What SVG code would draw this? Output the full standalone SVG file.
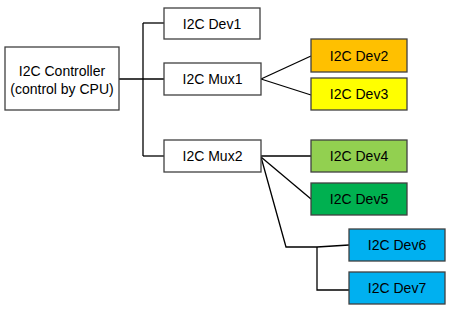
<svg xmlns="http://www.w3.org/2000/svg" width="450" height="311" viewBox="0 0 450 311">
  <style>
    .box { stroke: #404040; stroke-width: 1.3; }
    .plain { fill: #ffffff; }
    .lbl { font-family: "Liberation Sans", Arial, sans-serif; font-size: 14px; fill: #000000; text-anchor: middle; dominant-baseline: central; }
    .wire { fill: none; stroke: #000000; stroke-width: 1.3; }
  </style>
  <rect width="450" height="311" fill="#ffffff"/>

  <!-- bus wiring -->
  <g id="connectors">
    <path class="wire" d="M119 79 H164"/>
    <path class="wire" d="M143 23 V156"/>
    <path class="wire" d="M143 23 H164"/>
    <path class="wire" d="M143 156 H164"/>
    <path class="wire" d="M261 79 L311 56"/>
    <path class="wire" d="M261 79 L311 95"/>
    <path class="wire" d="M261 156 H311"/>
    <path class="wire" d="M261 157 L311 199"/>
    <path class="wire" d="M261 157 L286 247 H317 L349 245"/>
    <path class="wire" d="M317 247 V290 H349"/>
  </g>

  <g id="controller">
    <rect class="box plain" x="5" y="47" width="114" height="63"/>
    <text class="lbl" x="62" y="71">I2C Controller</text>
    <text class="lbl" x="62" y="89">(control by CPU)</text>
  </g>
  <g id="dev1">
    <rect class="box plain" x="164" y="8" width="96" height="31"/>
    <text class="lbl" x="212" y="23.5">I2C Dev1</text>
  </g>
  <g id="mux1">
    <rect class="box plain" x="164" y="63" width="97" height="32"/>
    <text class="lbl" x="212.5" y="79">I2C Mux1</text>
  </g>
  <g id="mux2">
    <rect class="box plain" x="164" y="140" width="97" height="32"/>
    <text class="lbl" x="212.5" y="156">I2C Mux2</text>
  </g>
  <g id="dev2">
    <rect class="box" fill="#FFC000" x="311" y="39" width="96" height="33"/>
    <text class="lbl" x="359" y="55.5">I2C Dev2</text>
  </g>
  <g id="dev3">
    <rect class="box" fill="#FFFF00" x="311" y="78" width="96" height="32"/>
    <text class="lbl" x="359" y="94">I2C Dev3</text>
  </g>
  <g id="dev4">
    <rect class="box" fill="#92D050" x="311" y="140" width="96" height="32"/>
    <text class="lbl" x="359" y="156">I2C Dev4</text>
  </g>
  <g id="dev5">
    <rect class="box" fill="#00B050" x="311" y="183" width="96" height="32"/>
    <text class="lbl" x="359" y="199">I2C Dev5</text>
  </g>
  <g id="dev6">
    <rect class="box" fill="#00B0F0" x="349" y="229" width="96" height="32"/>
    <text class="lbl" x="397" y="245">I2C Dev6</text>
  </g>
  <g id="dev7">
    <rect class="box" fill="#00B0F0" x="349" y="272" width="96" height="32"/>
    <text class="lbl" x="397" y="288">I2C Dev7</text>
  </g>
</svg>
